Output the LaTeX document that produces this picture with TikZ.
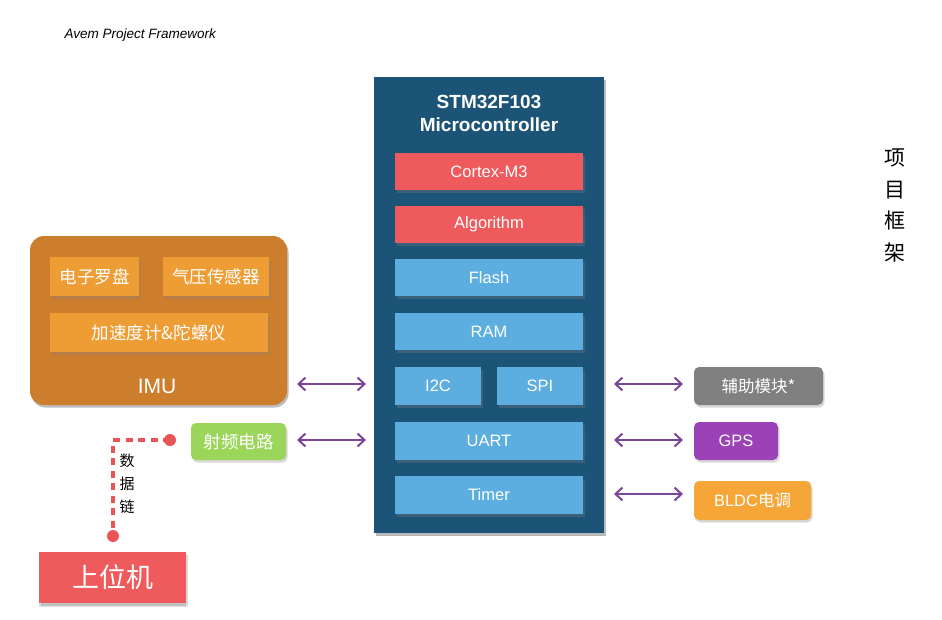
\documentclass[tikz,border=0pt]{standalone}
\usepackage{fontspec}
\setmainfont{Liberation Sans}
\newfontfamily\cjk{Noto Sans CJK SC}
\usetikzlibrary{shadows,arrows.meta}
\definecolor{stmblue}{HTML}{1C5477}
\definecolor{cred}{HTML}{EF5A5C}
\definecolor{cblue}{HTML}{5DAEE0}
\definecolor{imuout}{HTML}{CC7E2D}
\definecolor{imuin}{HTML}{EE9D34}
\definecolor{cgreen}{HTML}{9BD65A}
\definecolor{cgray}{HTML}{808080}
\definecolor{cpurple}{HTML}{9B42B7}
\definecolor{corange}{HTML}{F5A637}
\definecolor{apurple}{HTML}{7D449C}
\definecolor{dred}{HTML}{E95557}
\tikzset{
  box/.style={draw=none, text=white, inner sep=0pt, font=\fontsize{16.5}{19}\selectfont,
    drop shadow={opacity=0.3, shadow xshift=1.5pt, shadow yshift=-2.5pt}},
  rbox/.style={box, rounded corners=5pt},
  biarrow/.style={draw=apurple, line width=2pt, {Straight Barb[length=7pt,width=13pt]}-{Straight Barb[length=7pt,width=13pt]}},
}
\begin{document}
\begin{tikzpicture}[x=1pt,y=-1pt]
\useasboundingbox (0,0) rectangle (942,619);
\fill[white] (0,0) rectangle (942,619);

\node[anchor=west, font=\itshape\fontsize{13.5}{16}\selectfont] (title) at (61,35) {Avem Project Framework};

% STM32
\node[box, fill=stmblue, minimum width=230pt, minimum height=456pt,
  drop shadow={opacity=0.35, shadow xshift=2pt, shadow yshift=-3pt}] (stm) at (489,305) {};
\node[text=white, font=\bfseries\fontsize{19}{23}\selectfont, align=center] (stmtitle) at (489,113) {STM32F103\\Microcontroller};
\node[box, fill=cred, minimum width=188pt, minimum height=37pt] (cortex) at (489,171.5) {Cortex-M3};
\node[box, fill=cred, minimum width=188pt, minimum height=37pt] (algo) at (489,224.5) {Algorithm};
\node[box, fill=cblue, minimum width=188pt, minimum height=37pt] (flash) at (489,277.5) {Flash};
\node[box, fill=cblue, minimum width=188pt, minimum height=37pt] (ram) at (489,331.5) {RAM};
\node[box, fill=cblue, minimum width=86pt, minimum height=38pt] (i2c) at (438,386) {I2C};
\node[box, fill=cblue, minimum width=86pt, minimum height=38pt] (spi) at (540,386) {SPI};
\node[box, fill=cblue, minimum width=188pt, minimum height=38pt] (uart) at (489,441) {UART};
\node[box, fill=cblue, minimum width=188pt, minimum height=38pt] (timer) at (489,495) {Timer};

% IMU
\node[box, fill=imuout, rounded corners=14pt, minimum width=257pt, minimum height=169pt,
  drop shadow={opacity=0.3, shadow xshift=1.5pt, shadow yshift=-2.5pt}] (imu) at (158.5,320.5) {};
\node[text=white, font=\fontsize{21}{24}\selectfont] (imutext) at (157,386) {IMU};
\node[box, fill=imuin, minimum width=89pt, minimum height=39pt, font=\cjk\fontsize{17.5}{20}\selectfont] (compass) at (94.5,276.5) {电子罗盘};
\node[box, fill=imuin, minimum width=106pt, minimum height=39pt, font=\cjk\fontsize{17.5}{20}\selectfont] (baro) at (216,276.5) {气压传感器};
\node[box, fill=imuin, minimum width=218pt, minimum height=39pt, font=\cjk\fontsize{17.5}{20}\selectfont] (accel) at (159,332.5) {加速度计\&陀螺仪};

% RF
\node[rbox, fill=cgreen, minimum width=95pt, minimum height=37pt, font=\cjk\fontsize{17.5}{20}\selectfont] (rf) at (238.5,441.5) {射频电路};

% host
\node[box, fill=cred, minimum width=147pt, minimum height=51pt, font=\cjk\fontsize{27}{30}\selectfont,
  drop shadow={opacity=0.25, shadow xshift=0pt, shadow yshift=-4pt}] (host) at (112.5,577.5) {上位机};

% data link
\coordinate (d1) at (170,440);
\coordinate (dc) at (113,440);
\coordinate (d2) at (113,536);
\draw[dred, line width=3.5pt, dash pattern=on 7pt off 5.5pt] (d1) -- (dc) -- (d2);
\fill[dred] (d1) circle (6pt);
\fill[dred] (d2) circle (6pt);
\node[font=\cjk\fontsize{15}{23}\selectfont, align=center] (link) at (127,484) {数\\据\\链};

% right peripherals
\node[rbox, fill=cgray, minimum width=129pt, minimum height=38pt, font=\cjk\fontsize{16.5}{20}\selectfont] (aux) at (758.5,386) {辅助模块*};
\node[rbox, fill=cpurple, minimum width=84pt, minimum height=38pt] (gps) at (736,441) {GPS};
\node[rbox, fill=corange, minimum width=117pt, minimum height=39pt] (bldc) at (752.5,500.5) {BLDC{\cjk 电调}};

% arrows
\coordinate (la1) at (297,384); \coordinate (la2) at (366,384);
\coordinate (lb1) at (297,440); \coordinate (lb2) at (366,440);
\coordinate (ra1) at (614,384); \coordinate (ra2) at (683,384);
\coordinate (rb1) at (614,440); \coordinate (rb2) at (683,440);
\coordinate (rc1) at (614,494); \coordinate (rc2) at (683,494);
\draw[biarrow] (la1) -- (la2);
\draw[biarrow] (lb1) -- (lb2);
\draw[biarrow] (ra1) -- (ra2);
\draw[biarrow] (rb1) -- (rb2);
\draw[biarrow] (rc1) -- (rc2);

% side title
\node[font=\cjk\fontsize{21}{31.5}\selectfont, align=center] (side) at (895,205.5) {项\\目\\框\\架};
\end{tikzpicture}
\end{document}
